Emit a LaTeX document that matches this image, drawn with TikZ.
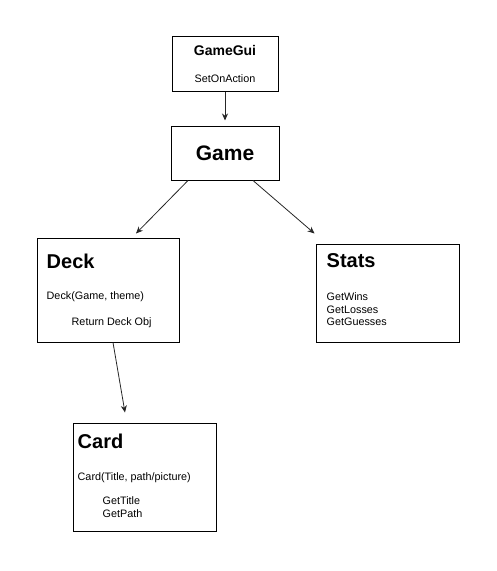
\documentclass[tikz,border=0pt]{standalone}
\usepackage{fontspec}
\setmainfont{Liberation Sans}
\usetikzlibrary{arrows.meta,calc,positioning}

\tikzset{
    classbox/.style={draw, line width=1pt, inner sep=0pt},
    title/.style={font=\bfseries\fontsize{20}{24}\selectfont, inner sep=0pt, anchor=west},
    method/.style={font=\fontsize{10.8}{12.5}\selectfont, inner sep=0pt, anchor=west, align=left},
    link/.style={line width=0.8pt, draw=black!85, -{Stealth[length=7pt,width=6pt]}}
}

\begin{document}
\begin{tikzpicture}[x=1pt,y=-1pt]

    \useasboundingbox (0,0) rectangle (496,571);

    % boxes
    \node[classbox, minimum width=106pt, minimum height=55pt] at (225,63.5) (GameGui) {};
    \node[classbox, minimum width=108pt, minimum height=54pt] at (225,153) (Game) {};
    \node[classbox, minimum width=142pt, minimum height=104pt] at (108,290) (Deck) {};
    \node[classbox, minimum width=143pt, minimum height=98pt] at (387.5,293) (Stats) {};
    \node[classbox, minimum width=143pt, minimum height=108pt] at (144.5,477) (Card) {};

    % texts
    \node[font=\bfseries\fontsize{14}{16}\selectfont, inner sep=0pt] (GameGuiName) at ($(GameGui.north) + (0,15)$) {GameGui};
    \node[method, anchor=center] (GameGuiAct) at ($(GameGui.north) + (0,43)$) {SetOnAction};
    \node[font=\bfseries\fontsize{21}{24}\selectfont, inner sep=0pt] (GameName) at (Game) {Game};

    \node[title] (DeckName) at ($(Deck.north west) + (10,24)$) {Deck};
    \node[method] (DeckNew) at ($(Deck.north west) + (10,59)$) {Deck(Game, theme)};
    \node[method] (DeckRet) at ($(Deck.north west) + (35,85)$) {Return Deck Obj};

    \node[title] (StatsName) at ($(Stats.north west) + (11,17)$) {Stats};
    \node[method] (StatsGet) at ($(Stats.north west) + (11,66)$) {GetWins\\GetLosses\\GetGuesses};

    \node[title] (CardName) at ($(Card.north west) + (5,19)$) {Card};
    \node[method] (CardNew) at ($(Card.north west) + (5,55)$) {Card(Title, path/picture)};
    \node[method] (CardGet) at ($(Card.north west) + (30,84.5)$) {GetTitle\\GetPath};

    % links
    \draw[link, shorten >=5pt] (GameGui.south) -- (Game.north);
    \draw[link] ([xshift=-37pt]Game.south) -- ([xshift=28pt,yshift=4pt]Deck.north);
    \draw[link] ([xshift=28pt]Game.south) -- ([xshift=-1pt,yshift=10pt]Stats.north west);
    \draw[link] ([xshift=5pt]Deck.south) -- ([xshift=-19.5pt,yshift=10pt]Card.north);
\end{tikzpicture}
\end{document}
